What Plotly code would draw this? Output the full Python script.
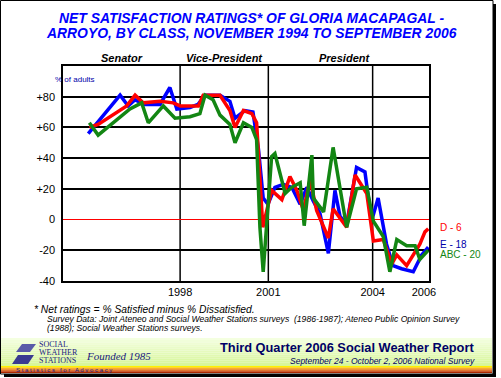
import plotly.graph_objects as go

# ---------------- data (x = survey position along the axis, 0-100) ----------------
e_x = [6.9, 15.6, 17.8, 19.7, 22.4, 26.5, 29.2, 31.1, 34.7, 36.9, 38.8, 42.9, 45.6, 47.0,
       49.7, 51.9, 53.4, 54.7, 56.0, 57.9, 60.2, 62.5, 64.8, 66.6, 68.4, 70.2, 72.5, 74.3,
       75.7, 77.5, 80.2, 82.5, 84.3, 86.1, 88.4, 90.2, 92.5, 95.7, 98.0, 99.8]
e_y = [56, 81, 74, 78, 75, 75, 86, 72, 73, 75, 81, 81, 77, 66,
       71, 70, 46, 14, 10, 21, 23, 21, 10, 21, 12, 4, -22, 19,
       2, -3, 34, 31, -1, 14, -16, -30, -32, -34, -23, -18]

d_x = [7.2, 9.6, 17.4, 19.7, 21.9, 26.5, 30.1, 32.0, 37.0, 38.3, 42.9, 45.6, 47.0, 49.3,
       51.6, 52.9, 54.6, 57.0, 59.8, 62.0, 63.9, 65.7, 67.5, 69.3, 72.5, 73.8, 77.5, 79.8,
       83.0, 84.8, 87.5, 89.8, 91.2, 93.9, 97.5, 98.9, 99.8]
d_y = [60, 62, 74, 81, 76, 77, 76, 74, 74, 81, 81, 71, 60, 71,
       69, 63, -5, 19, 13, 28, 19, 6, 26, 6, -12, 7, -5, 29,
       17, -14, -13, -29, -23, -30, -16, -8, -6]

abc_x = [7.2, 9.6, 18.3, 21.5, 23.3, 27.4, 30.6, 34.7, 37.4, 38.8, 41.0, 42.9, 45.6, 47.0,
         49.3, 51.6, 52.9, 53.8, 54.7, 57.0, 57.9, 60.7, 62.5, 64.8, 65.9, 68.0, 68.4, 71.2,
         73.8, 77.5, 80.2, 83.0, 84.8, 87.5, 89.3, 91.2, 93.9, 96.2, 97.5, 99.8]
abc_y = [63, 55, 72, 76, 63, 74, 66, 67, 69, 81, 78, 68, 62, 50,
         63, 60, 52, -5, -34, 41, 43, 17, 21, 24, -4, 42, 14, 5,
         47, -5, 20, 21, -1, -11, -34, -13, -17, -17, -26, -20]

year_ticks = [32.0, 56.1, 84.6, 98.6]
year_labels = ["1998", "2001", "2004", "2006"]
term_breaks = [32.0, 56.1, 84.6]
term_names = ["Senator", "Vice-President", "President"]
term_centers = [16.0, 44.0, 77.0]
y_ticks = [-40, -20, 0, 20, 40, 60, 80]
y_labels = ["-40", "-20", "0", "+20", "+40", "+60", "+80"]
series_labels = ["D - 6", "E - 18", "ABC - 20"]

BLUE = "#0000ff"
RED = "#ff0000"
GREEN = "#138613"
NAVY = "#000066"
FONT = "Liberation Sans, Arial, sans-serif"

# plot-area geometry in pixels (for decorations only)
L, R, T, B = 63, 429, 66, 281
W, H = 501, 378


def px(xp):
    return (xp - L) / (R - L)


def py(yp):
    return (B - yp) / (B - T)


fig = go.Figure()
fig.add_trace(go.Scatter(x=e_x, y=e_y, mode="lines", line=dict(color=BLUE, width=3.5), showlegend=False))
fig.add_trace(go.Scatter(x=d_x, y=d_y, mode="lines", line=dict(color=RED, width=3.5), showlegend=False))
fig.add_trace(go.Scatter(x=abc_x, y=abc_y, mode="lines", line=dict(color=GREEN, width=3.5), showlegend=False))

shapes = []
# vertical term break lines
for xb in term_breaks:
    shapes.append(dict(type="line", xref="x", yref="paper", x0=xb, x1=xb, y0=0, y1=1,
                       line=dict(color="black", width=1.5), layer="below"))

# banner gradient (light green), built from strips
n = 14
c0 = (244, 255, 224)
c1 = (214, 246, 150)
top, bot = 338, 367
for i in range(n):
    t = i / (n - 1)
    col = "rgb(%d,%d,%d)" % tuple(int(a + (b - a) * t) for a, b in zip(c0, c1))
    y0 = top + (bot - top) * i / n
    y1 = top + (bot - top) * (i + 1) / n
    shapes.append(dict(type="rect", xref="paper", yref="paper", x0=px(1), x1=px(492),
                       y0=py(y1), y1=py(y0), fillcolor=col, line=dict(width=0), layer="below"))
# yellow-orange stripe
stripe = [(255, 240, 0), (255, 200, 0), (245, 150, 0), (225, 95, 0), (200, 60, 0), (170, 40, 0)]
s_top, s_bot = 366, 373
for i, c in enumerate(stripe):
    y0 = s_top + (s_bot - s_top) * i / len(stripe)
    y1 = s_top + (s_bot - s_top) * (i + 1) / len(stripe)
    shapes.append(dict(type="rect", xref="paper", yref="paper", x0=px(1), x1=px(492),
                       y0=py(y1), y1=py(y0), fillcolor="rgb(%d,%d,%d)" % c, line=dict(width=0), layer="below"))
# outer frame and shadow
shapes.append(dict(type="rect", xref="paper", yref="paper", x0=px(0.5), x1=px(493), y0=py(374), y1=py(0.5),
                   line=dict(color="black", width=1), fillcolor="rgba(0,0,0,0)"))
shapes.append(dict(type="rect", xref="paper", yref="paper", x0=px(493), x1=px(496), y0=py(377), y1=py(4),
                   line=dict(width=0), fillcolor="black"))
shapes.append(dict(type="rect", xref="paper", yref="paper", x0=px(4), x1=px(496), y0=py(377), y1=py(374),
                   line=dict(width=0), fillcolor="black"))
# logo "S" mark
shapes.append(dict(type="path", xref="paper", yref="paper",
                   path="M %f %f L %f %f L %f %f L %f %f Z" % (px(22), py(344), px(36), py(344), px(30), py(352), px(16), py(352)),
                   fillcolor="#5a5aa8", line=dict(width=0)))
shapes.append(dict(type="path", xref="paper", yref="paper",
                   path="M %f %f L %f %f L %f %f L %f %f Z" % (px(18), py(355), px(34), py(355), px(28), py(364), px(12), py(364)),
                   fillcolor="#3a3a90", line=dict(width=0)))

ann = []


def text(x, y, s, size, color="black", bold=False, italic=False, anchor="center", family=FONT):
    if bold:
        s = "<b>%s</b>" % s
    if italic:
        s = "<i>%s</i>" % s
    ann.append(dict(xref="paper", yref="paper", x=px(x), y=py(y), text=s, showarrow=False,
                    xanchor=anchor, yanchor="middle", font=dict(size=size, color=color, family=family)))


text(251, 18, "NET SATISFACTION RATINGS* OF GLORIA MACAPAGAL -", 13.9, BLUE, bold=True, italic=True)
text(251, 33, "ARROYO, BY CLASS, NOVEMBER 1994 TO SEPTEMBER 2006", 13.9, BLUE, bold=True, italic=True)
for xc, name in zip(term_centers, term_names):
    ann.append(dict(xref="x", yref="paper", x=xc, y=py(58), text="<b><i>%s</i></b>" % name, showarrow=False,
                    xanchor="center", yanchor="middle", font=dict(size=11, color="black", family=FONT)))
text(53, 79, "% of adults", 8, "#0000aa", anchor="left")

text(438, 227, series_labels[0], 10, RED, anchor="left")
text(438, 244.5, series_labels[1], 10, "#0000aa", anchor="left")
text(438, 254, series_labels[2], 10, GREEN, anchor="left")

text(32, 309, "* Net ratings = % Satisfied minus % Dissatisfied.", 10.3, "black", italic=True, anchor="left")
text(45, 319, "Survey Data: Joint Ateneo and Social Weather Stations surveys  (1986-1987); Ateneo Public Opinion Survey",
     8.6, "black", italic=True, anchor="left")
text(45, 328, "(1988); Social Weather Stations surveys.", 8.6, "black", italic=True, anchor="left")

text(476, 347, "Third Quarter 2006 Social Weather Report", 12.8, NAVY, bold=True, anchor="right")
text(477, 361, "September 24 - October 2, 2006 National Survey", 8.5, NAVY, italic=True, anchor="right")

SERIF = "Liberation Serif, DejaVu Serif, serif"
text(37, 344, "SOCIAL", 8, "#1a1a80", anchor="left", family=SERIF)
text(37, 352, "WEATHER", 8, "#1a1a80", anchor="left", family=SERIF)
text(37, 360, "STATIONS", 8, "#1a1a80", anchor="left", family=SERIF)
text(84, 356, "Founded 1985", 11, "#1a1a80", italic=True, anchor="left", family=SERIF)
text(14, 370, "S t a t i s t i c s   f o r   A d v o c a c y", 6, "#1a1a80", anchor="left")

fig.update_layout(
    width=W, height=H, autosize=False,
    margin=dict(l=L, r=W - R, t=T, b=H - B, pad=0),
    paper_bgcolor="white", plot_bgcolor="white",
    shapes=shapes, annotations=ann,
    xaxis=dict(range=[0, 100], tickvals=year_ticks, ticktext=year_labels, showgrid=False, zeroline=False,
               showline=True, mirror=True, linecolor="black", linewidth=1.5, ticks="",
               tickfont=dict(size=11, color="black", family=FONT), fixedrange=True),
    yaxis=dict(range=[-40, 100], tickvals=y_ticks, ticktext=y_labels, showgrid=True, gridcolor="black",
               gridwidth=1.5, zeroline=True, zerolinecolor=RED, zerolinewidth=1.2,
               showline=True, mirror=True, linecolor="black", linewidth=1.5, ticks="",
               ticklabelstandoff=4,
               tickfont=dict(size=11, color="black", family=FONT), fixedrange=True),
)

fig.write_html("out.html", config={"displayModeBar": False},
               post_script="document.body.style.margin='0';document.body.style.padding='0';")
